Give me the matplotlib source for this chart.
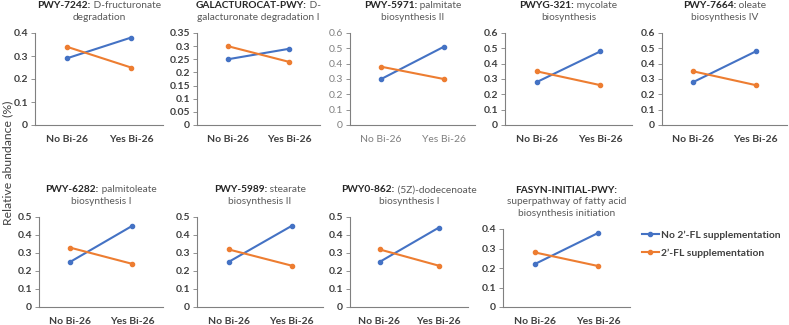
import matplotlib.pyplot as plt

plt.rcParams['font.family'] = ['Lato', 'DejaVu Sans']

groups = ["No Bi-26", "Yes Bi-26"]
series_names = ["No 2\u2019-FL supplementation", "2\u2019-FL supplementation"]

# pathway titles: (bold id, rest of first line, further lines)
titles = [
    ("PWY-7242:", " D-fructuronate", ["degradation"]),
    ("GALACTUROCAT-PWY:", " D-", ["galacturonate degradation I"]),
    ("PWY-5971:", " palmitate", ["biosynthesis II"]),
    ("PWYG-321:", " mycolate", ["biosynthesis"]),
    ("PWY-7664:", " oleate", ["biosynthesis IV"]),
    ("PWY-6282:", " palmitoleate", ["biosynthesis I"]),
    ("PWY-5989:", " stearate", ["biosynthesis II"]),
    ("PWY0-862:", " (5Z)-dodecenoate", ["biosynthesis I"]),
    ("FASYN-INITIAL-PWY:", "", ["superpathway of fatty acid", "biosynthesis initiation"]),
]

no_fl = [[0.29, 0.38], [0.25, 0.29], [0.30, 0.51], [0.28, 0.48], [0.28, 0.48],
         [0.25, 0.45], [0.25, 0.45], [0.25, 0.44], [0.22, 0.38]]
with_fl = [[0.34, 0.25], [0.30, 0.24], [0.38, 0.30], [0.35, 0.26], [0.35, 0.26],
           [0.33, 0.24], [0.32, 0.23], [0.32, 0.23], [0.28, 0.21]]

ymax = [0.4, 0.35, 0.6, 0.6, 0.6, 0.5, 0.5, 0.5, 0.4]
ystep = [0.1, 0.05, 0.1, 0.1, 0.1, 0.1, 0.1, 0.1, 0.1]

blue = "#4472C4"
orange = "#ED7D31"

W, H = 789, 325
# panel boxes in pixels: left, right, top, bottom
boxes = [(35, 163, 33, 125), (197, 320, 33, 125), (350, 475, 33, 125),
         (505, 632, 33, 125), (662, 787, 33, 125),
         (39, 163, 217, 307), (197, 323, 217, 307), (350, 468, 217, 307),
         (503, 630, 229, 307)]

fig = plt.figure(figsize=(W / 100, H / 100), dpi=100)

axes = []
for i, (l, r, t, b) in enumerate(boxes):
    ax = fig.add_axes([l / W, 1 - b / H, (r - l) / W, (b - t) / H])
    axes.append(ax)
    x = [0, 1]
    ax.plot(x, no_fl[i], color=blue, lw=1.5, marker='o', ms=3, label=series_names[0])
    ax.plot(x, with_fl[i], color=orange, lw=1.5, marker='o', ms=3, label=series_names[1])
    ax.set_xlim(-0.5, 1.5)
    ax.set_ylim(0, ymax[i])
    n = int(round(ymax[i] / ystep[i]))
    ticks = [round(k * ystep[i], 2) for k in range(n + 1)]
    ax.set_yticks(ticks)
    ax.set_yticklabels(["0" if v == 0 else ("%g" % v) for v in ticks])
    ax.set_xticks(x)
    ax.set_xticklabels(groups)
    for s in ['top', 'right']:
        ax.spines[s].set_visible(False)
    for s in ['left', 'bottom']:
        ax.spines[s].set_color("#808080")
        ax.spines[s].set_linewidth(0.8)
    light = (i == 2)
    tc = "#808080" if light else "#404040"
    fw = 'normal' if light else 'bold'
    ax.tick_params(axis='y', length=3, width=0.6, color="#808080", labelsize=7.5,
                   labelcolor=tc, pad=2)
    ax.tick_params(axis='x', length=0, labelsize=7.5, labelcolor=tc, pad=7)
    for lab in ax.get_yticklabels() + ax.get_xticklabels():
        lab.set_fontweight(fw)

# titles with bold prefix, centred over each panel
fig.canvas.draw()
renderer = fig.canvas.get_renderer()
line_h = 11.5 / H
for i, (bold, rest, more) in enumerate(titles):
    l, r, t, b = boxes[i]
    cx = (l + r) / 2 / W
    nlines = 1 + len(more)
    ytop = 1 - (t - 13 - (nlines - 1) * 11.5) / H
    t1 = fig.text(0, ytop, bold, fontsize=7.3, fontweight='bold', color="#262626",
                  va='baseline', ha='left')
    t2 = fig.text(0, ytop, rest, fontsize=7.3, color="#595959", va='baseline', ha='left')
    w1 = t1.get_window_extent(renderer).width / W
    w2 = t2.get_window_extent(renderer).width / W if rest else 0
    x0 = cx - (w1 + w2) / 2
    t1.set_x(x0)
    t2.set_x(x0 + w1)
    for k, line in enumerate(more):
        fig.text(cx, ytop - (k + 1) * line_h, line, fontsize=7.3, color="#595959",
                 va='baseline', ha='center')

fig.text(8 / W, 1 - 163 / H, "Relative abundance (%)", rotation=90, fontsize=8.8,
         color="#404040", ha='center', va='center')

handles, labels = axes[-1].get_legend_handles_labels()
leg = fig.legend(handles, labels, loc='center left', bbox_to_anchor=(638 / W, 1 - 244 / H),
                 frameon=False, fontsize=7.4, handlelength=1.6, handletextpad=0.25,
                 labelspacing=0.8, borderaxespad=0)
for txt in leg.get_texts():
    txt.set_fontweight('bold')
    txt.set_color("#404040")

fig.savefig("out.png", dpi=100)
